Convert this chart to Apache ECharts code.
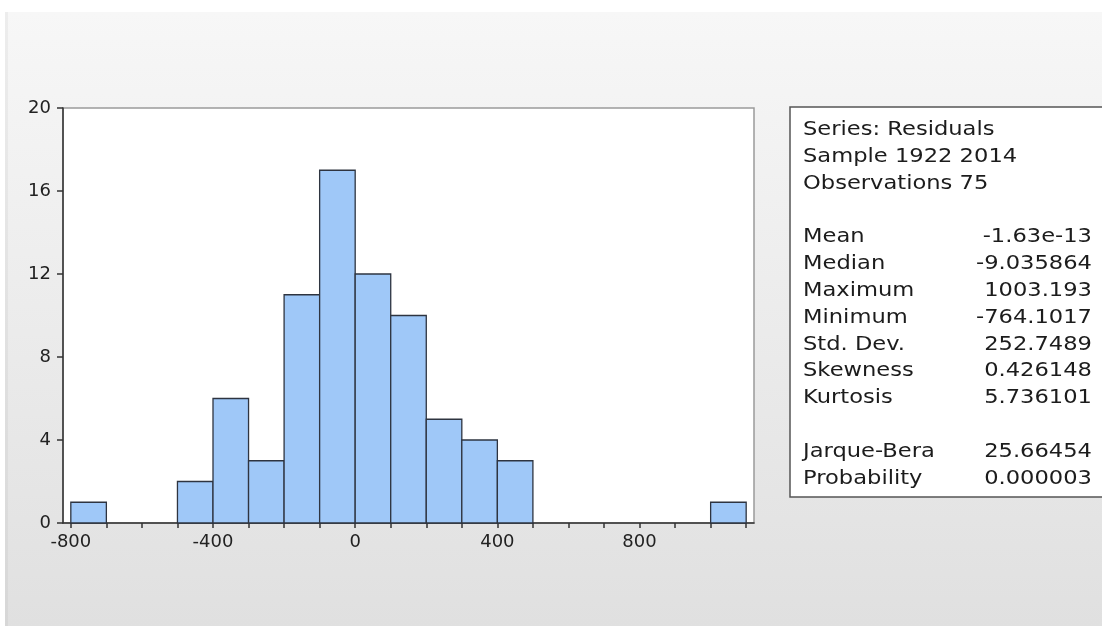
<!DOCTYPE html>
<html>
<head>
<meta charset="utf-8">
<script src="https://cdn.jsdelivr.net/npm/echarts@6/dist/echarts.min.js"></script>
<style>
  html, body { margin: 0; padding: 0; background: #ffffff; }
  #chart { width: 1102px; height: 626px; }
</style>
</head>
<body>
<div id="chart"></div>
<script>
// Histogram of regression residuals: bin edges (width 100) and counts per bin
const binStarts = [-800, -700, -600, -500, -400, -300, -200, -100, 0, 100, 200, 300, 400, 500, 600, 700, 800, 900, 1000];
const binWidth = 100;
const counts = [1, 0, 0, 2, 6, 3, 11, 17, 12, 10, 5, 4, 3, 0, 0, 0, 0, 0, 1];

// Axis ticks and labels
const xTickValues = [-800, -700, -600, -500, -400, -300, -200, -100, 0, 100, 200, 300, 400, 500, 600, 700, 800, 900, 1000, 1100];
const xLabelValues = [-800, -400, 0, 400, 800];

// Descriptive statistics panel
const headerLines = ['Series: Residuals', 'Sample 1922 2014', 'Observations 75'];
const statNames = ['Mean', 'Median', 'Maximum', 'Minimum', 'Std. Dev.', 'Skewness', 'Kurtosis'];
const statValues = ['-1.63e-13', '-9.035864', '1003.193', '-764.1017', '252.7489', '0.426148', '5.736101'];
const testNames = ['Jarque-Bera', 'Probability'];
const testValues = ['25.66454', '0.000003'];

const histData = binStarts.map((s, i) => [s, s + binWidth, counts[i]]);

const FONT = 'DejaVu Sans';
const chart = echarts.init(document.getElementById('chart'), null, { renderer: 'canvas' });

// Stats panel texts (slightly widened glyphs)
const lineStep = 26.8;
const firstLineY = 130;
const stretch = 1.13;
const panelTexts = [];
function addLine(idx, left, right) {
  const y = firstLineY + idx * lineStep;
  panelTexts.push({
    type: 'text', x: 803, y: y, scaleX: stretch, z: 12,
    style: { text: left, font: '20px "' + FONT + '"', fill: '#1c1c1c', align: 'left', verticalAlign: 'middle' }
  });
  if (right !== undefined) {
    panelTexts.push({
      type: 'text', x: 1092, y: y, scaleX: stretch, z: 12,
      style: { text: right, font: '20px "' + FONT + '"', fill: '#1c1c1c', align: 'right', verticalAlign: 'middle' }
    });
  }
}
headerLines.forEach((t, i) => addLine(i, t));
statNames.forEach((t, i) => addLine(4 + i, t, statValues[i]));
testNames.forEach((t, i) => addLine(12 + i, t, testValues[i]));

chart.setOption({
  animation: false,
  backgroundColor: '#ffffff',
  graphic: [
    {
      type: 'rect', z: -10, silent: true,
      shape: { x: 5, y: 12, width: 1097, height: 614 },
      style: {
        fill: {
          type: 'linear', x: 0, y: 0, x2: 0, y2: 1,
          colorStops: [{ offset: 0, color: '#f7f7f7' }, { offset: 1, color: '#e0e0e0' }]
        }
      }
    },
    {
      type: 'rect', z: -9, silent: true,
      shape: { x: 5, y: 12, width: 3, height: 614 },
      style: { fill: 'rgba(0,0,0,0.04)' }
    },
    {
      type: 'rect', z: 10, silent: true,
      shape: { x: 790, y: 107, width: 330, height: 390 },
      style: { fill: '#ffffff', stroke: '#555555', lineWidth: 1.5 }
    }
  ].concat(panelTexts),
  grid: {
    left: 63, top: 108, width: 691, height: 415,
    show: true, backgroundColor: '#ffffff', borderColor: '#9a9a9a', borderWidth: 1.5
  },
  xAxis: {
    type: 'value', min: -822, max: 1122,
    splitLine: { show: false },
    axisLine: { show: true, onZero: false, lineStyle: { color: '#333333', width: 1.5 } },
    axisTick: { show: true, customValues: xTickValues, length: 5, inside: false, lineStyle: { color: '#333333', width: 1.5 } },
    axisLabel: { customValues: xLabelValues, margin: 10, color: '#222222', fontFamily: FONT, fontSize: 18 }
  },
  yAxis: {
    type: 'value', min: 0, max: 20, interval: 4,
    splitLine: { show: false },
    axisLine: { show: true, onZero: false, lineStyle: { color: '#333333', width: 1.5 } },
    axisTick: { show: true, length: 6, lineStyle: { color: '#333333', width: 1.5 } },
    axisLabel: { margin: 12, color: '#222222', fontFamily: FONT, fontSize: 18 }
  },
  series: [{
    type: 'custom',
    data: histData,
    encode: { x: [0, 1], y: 2 },
    renderItem: function (params, api) {
      const h = api.value(2);
      if (!h) return null;
      const p0 = api.coord([api.value(0), 0]);
      const p1 = api.coord([api.value(1), h]);
      return {
        type: 'rect',
        shape: { x: p0[0], y: p1[1], width: p1[0] - p0[0], height: p0[1] - p1[1] },
        style: { fill: '#9fc8f8', stroke: '#2e3440', lineWidth: 1.3 }
      };
    }
  }]
});
</script>
</body>
</html>
